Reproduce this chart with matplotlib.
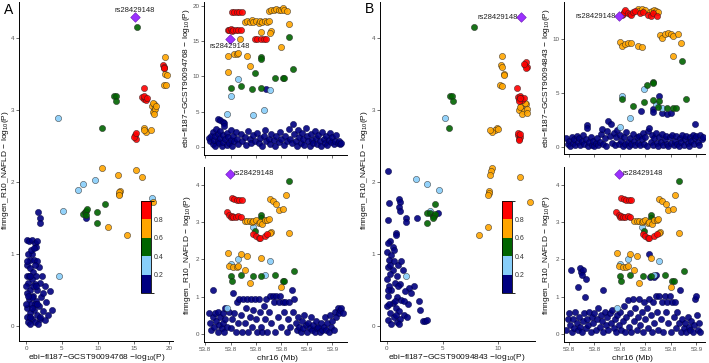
import matplotlib
matplotlib.use('Agg')
import matplotlib.pyplot as plt
import matplotlib.colorbar as mcolorbar
from matplotlib.colors import ListedColormap, BoundaryNorm

plt.rcParams['font.family'] = ['Liberation Sans', 'DejaVu Sans']
plt.rcParams['mathtext.fontset'] = 'custom'
plt.rcParams['mathtext.rm'] = 'Liberation Sans'
plt.rcParams['mathtext.it'] = 'Liberation Sans:italic'

# LD (r2) bins: navy, light blue, green, orange, red
LD_COLORS = ['#000080', '#87CEFA', '#006400', '#FFA500', '#FF0000']
LD_BOUNDS = [0, 0.2, 0.4, 0.6, 0.8, 1.0]
LD_TICKS = [0.2, 0.4, 0.6, 0.8]

LEAD_SNP = 'rs28429148'
LEAD_POS = 53.7995
LEAD_FINNGEN = 4.29
LEAD_EBI_768 = 15.2
LEAD_EBI_843 = 12.1

A_POS_TICKS = [53.78, 53.80, 53.82, 53.84, 53.86, 53.88]
A_POS_LABELS = ['53.8', '53.8', '53.8', '53.8', '53.9', '53.9']
B_POS_TICKS = [53.76, 53.78, 53.80, 53.82, 53.84, 53.86]
B_POS_LABELS = ['53.8', '53.8', '53.8', '53.8', '53.8', '53.9']

# ---- panel A, scatter: (ebi GCST90094768 -log10P, finngen -log10P)
A_SCAT_NAVY = [(1.7, 1.58), (1.9, 1.5), (2.0, 1.43), (8.3, 1.5),
               (0.1, 1.2), (0.4, 1.18), (0.8, 1.2), (1.2, 1.15), (1.5, 1.18), (1.4, 1.1), (0.9, 1.0),
               (0.3, 1.0), (0.6, 0.92), (1.1, 0.92), (1.6, 0.9), (0.2, 0.85), (1.8, 0.82), (0.5, 0.8),
               (1.0, 0.75), (1.4, 0.7), (0.1, 0.7), (2.2, 0.7), (0.8, 0.65), (1.9, 0.6), (0.3, 0.6),
               (1.2, 0.58), (2.6, 0.55), (0.6, 0.5), (1.6, 0.5), (3.4, 0.48), (0.1, 0.45), (1.0, 0.42),
               (2.1, 0.4), (0.4, 0.38), (1.4, 0.35), (2.8, 0.33), (0.7, 0.3), (1.8, 0.28), (0.2, 0.25),
               (1.1, 0.22), (3.6, 0.22), (2.4, 0.2), (0.5, 0.18), (1.5, 0.15), (3.0, 0.15), (0.1, 0.12),
               (0.9, 0.1), (2.0, 0.1), (0.3, 0.05), (1.3, 0.05), (0.6, 0.02), (1.7, 0.02), (2.6, 0.08),
               (0.0, 0.3), (0.0, 0.55), (0.2, 0.9), (0.7, 1.05), (1.3, 0.85), (0.4, 0.7), (1.0, 0.55),
               (0.8, 0.4), (1.2, 0.3), (0.5, 0.12), (1.6, 0.3), (2.3, 0.45), (1.9, 0.12), (0.3, 0.42),
               (0.9, 0.25), (1.4, 0.55), (0.6, 0.7), (1.1, 1.08)]
A_SCAT_LBLUE = [(4.5, 2.89), (9.6, 2.03), (7.3, 1.89), (8.0, 1.97), (5.2, 1.60), (4.6, 0.70), (17.6, 1.78)]
A_SCAT_GREEN = [(15.5, 4.15), (12.3, 3.20), (12.6, 3.20), (12.6, 3.12), (10.6, 2.75), (8.0, 1.55),
                (8.2, 1.58), (8.4, 1.60), (8.3, 1.54), (8.5, 1.62), (9.9, 1.58), (9.9, 1.43), (11.0, 1.69)]
A_SCAT_ORANGE = [(19.4, 3.74), (19.3, 3.58), (19.4, 3.50), (19.6, 3.49), (19.3, 3.34), (19.5, 3.35),
                 (17.6, 3.05), (17.8, 3.00), (17.9, 3.08), (17.7, 2.97), (18.0, 3.02), (17.8, 2.95),
                 (17.7, 3.10), (18.1, 3.05), (16.4, 2.75), (16.7, 2.70), (17.4, 2.72), (16.5, 2.72),
                 (10.6, 2.20), (12.8, 2.10), (15.4, 2.16), (16.2, 2.07), (12.9, 1.83), (13.1, 1.87),
                 (12.9, 1.86), (13.0, 1.82), (17.7, 1.72), (11.5, 1.37), (14.1, 1.26)]
A_SCAT_RED = [(16.4, 3.30), (16.2, 3.18), (16.4, 3.15), (16.6, 3.17), (16.8, 3.14), (16.5, 3.20),
              (16.9, 3.16), (15.2, 2.65), (15.3, 2.60), (15.1, 2.62), (15.3, 2.68), (19.1, 3.62),
              (19.2, 3.60), (19.2, 3.58)]

# ---- panel A, locus: (position Mb, ebi GCST90094768 -log10P)
A_TOP_NAVY = [(53.828, 8.2), (53.7905, 3.9), (53.792, 3.8), (53.794, 3.6), (53.795, 3.4),
              (53.783, 1.3), (53.784, 0.8), (53.785, 1.6), (53.786, 0.4), (53.786, 2.1), (53.787, 1.0),
              (53.788, 0.2), (53.788, 1.5), (53.789, 2.6), (53.790, 0.9), (53.790, 1.9), (53.791, 0.5),
              (53.792, 1.3), (53.792, 2.3), (53.793, 0.1), (53.794, 1.7), (53.794, 0.7), (53.795, 2.9),
              (53.796, 1.1), (53.797, 0.3), (53.797, 2.0), (53.798, 1.4), (53.799, 0.6), (53.800, 2.4),
              (53.800, 1.0), (53.801, 0.2), (53.802, 1.6), (53.803, 0.8), (53.804, 2.1), (53.805, 1.2),
              (53.806, 0.4), (53.808, 1.8), (53.809, 0.9), (53.811, 1.4), (53.812, 0.3), (53.814, 2.2),
              (53.815, 1.1), (53.816, 0.5), (53.818, 1.7), (53.819, 0.9), (53.821, 2.0), (53.822, 0.6),
              (53.823, 1.3), (53.825, 0.2), (53.826, 1.6), (53.827, 2.4), (53.828, 0.8), (53.830, 1.2),
              (53.831, 0.4), (53.832, 1.9), (53.834, 1.0), (53.835, 0.2), (53.836, 1.5), (53.838, 0.7),
              (53.839, 2.1), (53.840, 1.1), (53.842, 0.3), (53.843, 1.6), (53.844, 0.9), (53.846, 2.6),
              (53.847, 1.2), (53.848, 0.5), (53.849, 3.2), (53.850, 1.8), (53.851, 0.9), (53.852, 0.2),
              (53.853, 2.4), (53.854, 1.4), (53.855, 0.6), (53.856, 2.0), (53.857, 1.1), (53.858, 0.3),
              (53.859, 2.7), (53.860, 1.5), (53.861, 0.8), (53.862, 0.2), (53.863, 1.9), (53.864, 1.0),
              (53.865, 0.5), (53.866, 2.3), (53.867, 1.3), (53.868, 0.4), (53.869, 1.7), (53.870, 0.9),
              (53.871, 0.2), (53.872, 2.1), (53.873, 1.2), (53.874, 0.6), (53.875, 1.6), (53.876, 0.3),
              (53.877, 1.0), (53.878, 2.0), (53.879, 0.7), (53.880, 1.4), (53.881, 0.4), (53.882, 0.9),
              (53.883, 1.7), (53.884, 0.5), (53.885, 0.8), (53.886, 0.4), (53.887, 0.6)]
A_TOP_LBLUE = [(53.806, 9.6), (53.800, 7.2), (53.831, 8.1), (53.7975, 4.6), (53.8174, 4.5), (53.8265, 5.3)]
A_TOP_GREEN = [(53.846, 15.5), (53.824, 12.7), (53.824, 12.4), (53.849, 11.0), (53.819, 10.5),
               (53.835, 9.8), (53.841, 9.8), (53.842, 9.8), (53.800, 8.4), (53.808, 8.6),
               (53.817, 8.2), (53.824, 8.4)]
A_TOP_ORANGE = [(53.811, 17.7), (53.813, 17.8), (53.815, 17.7), (53.817, 17.9), (53.818, 17.7),
                (53.820, 17.8), (53.822, 17.6), (53.823, 17.8), (53.825, 17.7), (53.827, 17.8),
                (53.829, 17.7), (53.830, 17.8), (53.830, 19.2), (53.832, 19.3), (53.834, 19.3),
                (53.836, 19.5), (53.838, 19.4), (53.840, 19.4), (53.841, 19.6), (53.842, 19.3),
                (53.844, 19.2), (53.846, 17.4), (53.8315, 16.4), (53.831, 16.1), (53.824, 16.2),
                (53.8077, 15.3), (53.840, 14.1), (53.803, 13.2), (53.805, 13.2), (53.806, 13.3),
                (53.798, 12.8), (53.813, 12.8), (53.815, 11.5), (53.798, 10.6)]
A_TOP_RED = [(53.801, 19.1), (53.803, 19.15), (53.805, 19.1), (53.807, 19.15), (53.809, 19.1),
             (53.798, 16.6), (53.799, 16.5), (53.800, 16.7), (53.801, 16.4), (53.802, 16.6),
             (53.804, 16.5), (53.806, 16.6), (53.808, 16.5), (53.819, 15.2), (53.821, 15.25),
             (53.824, 15.2), (53.826, 15.2), (53.828, 15.25)]

# ---- finngen locus: (position Mb, finngen -log10P), coloured SNPs shared by A and B
FIN_LBLUE = [(53.8174, 2.86), (53.800, 1.87), (53.806, 2.02), (53.831, 1.96), (53.827, 1.57), (53.7975, 0.71)]
FIN_GREEN = [(53.846, 4.10), (53.824, 3.20), (53.824, 3.12), (53.819, 2.75), (53.800, 1.55),
             (53.801, 1.43), (53.808, 1.57), (53.818, 1.55), (53.824, 1.55), (53.835, 1.57),
             (53.841, 1.43), (53.842, 1.43), (53.850, 1.68)]
FIN_ORANGE = [(53.811, 3.03), (53.813, 3.02), (53.815, 3.04), (53.817, 3.00), (53.818, 3.03),
              (53.820, 3.05), (53.822, 2.98), (53.823, 3.00), (53.825, 2.95), (53.827, 3.05),
              (53.829, 3.07), (53.830, 3.08), (53.831, 3.62), (53.833, 3.58), (53.836, 3.48),
              (53.8435, 3.72), (53.838, 3.33), (53.8415, 3.35), (53.8315, 2.73), (53.831, 2.70),
              (53.846, 2.72), (53.798, 2.18), (53.808, 2.14), (53.813, 2.08), (53.824, 2.05),
              (53.799, 1.83), (53.802, 1.80), (53.805, 1.80), (53.806, 1.83), (53.811, 1.72),
              (53.815, 1.36), (53.840, 1.25)]
FIN_RED = [(53.801, 3.65), (53.803, 3.62), (53.805, 3.60), (53.807, 3.60), (53.809, 3.60),
           (53.797, 3.28), (53.799, 3.20), (53.800, 3.15), (53.801, 3.17), (53.802, 3.14),
           (53.804, 3.15), (53.806, 3.16), (53.808, 3.15), (53.818, 2.68), (53.820, 2.62),
           (53.822, 2.58), (53.823, 2.58), (53.827, 2.64), (53.829, 2.68)]

A_BOT_NAVY = [(53.783, 0.55), (53.784, 0.3), (53.785, 0.1), (53.786, 0.45), (53.786, 1.18), (53.787, 0.2),
              (53.788, 0.55), (53.789, 0.35), (53.790, 0.05), (53.790, 0.6), (53.791, 0.25), (53.792, 0.45),
              (53.793, 0.15), (53.794, 0.55), (53.794, 0.3), (53.795, 0.05), (53.796, 0.4), (53.796, 0.7),
              (53.797, 0.2), (53.799, 0.6), (53.800, 0.15), (53.801, 0.4), (53.802, 1.1), (53.803, 0.55),
              (53.804, 0.05), (53.805, 0.85), (53.806, 0.3), (53.807, 0.95), (53.808, 0.5), (53.809, 0.05),
              (53.810, 0.95), (53.811, 0.3), (53.812, 0.7), (53.813, 0.95), (53.814, 0.05), (53.815, 0.45),
              (53.816, 0.95), (53.817, 0.2), (53.818, 0.65), (53.819, 0.95), (53.820, 0.4), (53.821, 0.05),
              (53.822, 0.95), (53.823, 0.6), (53.824, 0.2), (53.825, 0.05), (53.826, 0.75), (53.827, 0.4),
              (53.828, 0.95), (53.829, 0.05), (53.830, 0.6), (53.831, 1.03), (53.832, 0.3), (53.833, 1.03),
              (53.834, 0.85), (53.835, 0.05), (53.836, 1.03), (53.837, 0.45), (53.838, 0.85), (53.839, 1.03),
              (53.840, 0.2), (53.841, 0.85), (53.842, 0.6), (53.843, 0.85), (53.844, 0.05), (53.845, 0.4),
              (53.846, 0.85), (53.847, 0.2), (53.848, 1.18), (53.849, 0.6), (53.850, 0.95), (53.851, 0.3),
              (53.852, 0.1), (53.853, 0.45), (53.854, 0.2), (53.855, 0.05), (53.856, 0.35), (53.857, 0.15),
              (53.858, 0.5), (53.859, 0.25), (53.860, 0.05), (53.861, 0.3), (53.862, 0.15), (53.863, 0.45),
              (53.864, 0.1), (53.865, 0.25), (53.866, 0.05), (53.867, 0.35), (53.868, 0.15), (53.869, 0.2),
              (53.870, 0.05), (53.871, 0.3), (53.872, 0.1), (53.873, 0.2), (53.874, 0.45), (53.875, 0.1),
              (53.876, 0.3), (53.877, 0.05), (53.878, 0.5), (53.879, 0.2), (53.880, 0.35), (53.881, 0.1),
              (53.882, 0.6), (53.883, 0.45), (53.884, 0.7), (53.885, 0.55), (53.886, 0.65), (53.887, 0.7),
              (53.888, 0.55)]

# ---- panel B, scatter: (ebi GCST90094843 -log10P, finngen -log10P)
B_SCAT_NAVY = [(0.05, 2.15), (0.2, 1.71), (1.1, 1.76), (1.2, 1.72), (1.1, 1.65), (1.2, 1.6), (0.1, 1.47),
               (1.7, 1.5), (1.7, 1.44), (2.7, 1.5), (4.6, 1.57), (0.8, 1.29), (0.8, 1.26), (0.3, 1.18),
               (0.1, 1.15), (0.5, 1.1), (0.0, 1.02), (0.4, 0.98), (0.2, 0.92), (0.6, 0.9), (1.0, 0.85),
               (0.1, 0.82), (0.5, 0.78), (1.4, 0.78), (0.3, 0.72), (0.9, 0.7), (2.4, 0.55), (0.0, 0.65),
               (0.7, 0.6), (1.2, 0.58), (2.0, 0.52), (0.4, 0.5), (1.6, 0.48), (2.2, 0.45), (0.1, 0.42),
               (0.9, 0.4), (1.3, 0.36), (0.5, 0.32), (1.9, 0.3), (0.0, 0.28), (0.8, 0.25), (1.1, 0.2),
               (0.3, 0.18), (1.5, 0.15), (0.6, 0.12), (0.1, 0.08), (0.9, 0.05), (1.2, 0.1), (0.4, 0.02),
               (3.2, 0.07), (3.4, 0.07), (3.6, 0.08), (2.9, 0.35), (3.0, 0.22), (1.8, 0.12), (0.2, 0.55),
               (0.7, 0.35), (1.0, 0.55), (1.3, 0.9), (0.6, 1.05), (0.2, 0.3), (0.8, 0.15), (1.5, 0.35),
               (1.1, 0.02), (0.3, 0.85), (0.05, 0.5)]
B_SCAT_LBLUE = [(5.2, 2.89), (2.6, 2.04), (3.6, 1.97), (4.7, 1.89), (3.9, 1.60), (1.7, 0.70)]
B_SCAT_GREEN = [(7.85, 4.15), (5.7, 3.20), (5.85, 3.20), (5.9, 3.12), (5.6, 2.75), (4.3, 1.69),
                (3.6, 1.57), (3.9, 1.57), (3.6, 1.43), (4.1, 1.53), (4.2, 1.52), (4.3, 1.55), (4.15, 1.50)]
B_SCAT_ORANGE = [(10.4, 3.75), (10.3, 3.62), (10.4, 3.60), (10.5, 3.50), (10.5, 3.48), (10.2, 3.35),
                 (10.4, 3.33), (9.9, 2.75), (9.7, 2.72), (9.5, 2.70), (9.3, 2.72), (10.0, 2.74),
                 (9.5, 2.20), (9.4, 2.15), (9.3, 2.09), (12.0, 2.07), (11.9, 3.00), (12.1, 3.05),
                 (12.3, 2.98), (12.5, 3.08), (12.6, 3.02), (12.2, 2.95), (12.4, 3.10), (12.0, 3.04),
                 (12.6, 2.96), (9.2, 1.87), (9.2, 1.84), (9.1, 1.82), (12.9, 1.72), (9.1, 1.37), (8.3, 1.26)]
B_SCAT_RED = [(12.4, 3.62), (12.5, 3.67), (12.6, 3.60), (12.5, 3.58), (12.3, 3.64), (11.7, 3.30),
              (11.8, 3.18), (11.9, 3.15), (12.0, 3.20), (12.1, 3.16), (12.2, 3.14), (12.3, 3.17),
              (11.9, 3.12), (12.0, 3.16), (11.8, 2.65), (11.9, 2.60), (12.0, 2.62), (11.8, 2.68),
              (11.9, 2.58), (12.0, 2.66)]

# ---- panel B, locus: (position Mb, ebi GCST90094843 -log10P)
B_TOP_NAVY = [(53.8308, 4.72), (53.8165, 3.36), (53.8256, 3.5), (53.8256, 3.27), (53.833, 3.15),
              (53.8366, 3.1), (53.8397, 3.15), (53.859, 2.1),
              (53.758, 0.8), (53.759, 0.3), (53.760, 0.6), (53.761, 0.1), (53.762, 0.9), (53.763, 0.4),
              (53.764, 0.7), (53.765, 0.2), (53.766, 1.0), (53.767, 0.5), (53.768, 0.8), (53.769, 0.15),
              (53.770, 0.6), (53.771, 1.1), (53.772, 0.3), (53.773, 0.7), (53.774, 2.0), (53.774, 1.8),
              (53.775, 0.1), (53.776, 0.5), (53.777, 0.9), (53.778, 0.2), (53.779, 0.6), (53.780, 0.1),
              (53.781, 0.4), (53.782, 0.8), (53.783, 0.2), (53.784, 0.5), (53.785, 1.2), (53.786, 1.7),
              (53.787, 0.3), (53.788, 0.8), (53.789, 0.1), (53.790, 1.5), (53.791, 2.4), (53.792, 1.0),
              (53.793, 2.1), (53.794, 0.4), (53.795, 1.3), (53.796, 0.15), (53.797, 0.9), (53.798, 1.6),
              (53.799, 0.3), (53.800, 1.1), (53.801, 0.6), (53.802, 0.1), (53.803, 0.9), (53.804, 0.3),
              (53.805, 1.4), (53.806, 0.5), (53.807, 0.1), (53.808, 0.8), (53.809, 0.3), (53.810, 1.2),
              (53.811, 0.6), (53.812, 0.15), (53.813, 0.9), (53.814, 0.4), (53.815, 1.0), (53.816, 0.2),
              (53.817, 0.7), (53.818, 1.3), (53.819, 0.3), (53.820, 0.9), (53.821, 0.1), (53.822, 1.5),
              (53.823, 1.8), (53.824, 0.5), (53.825, 1.1), (53.826, 0.2), (53.827, 0.8), (53.828, 1.3),
              (53.829, 0.4), (53.830, 0.1), (53.831, 0.9), (53.832, 0.5), (53.833, 1.2), (53.834, 0.2),
              (53.835, 0.7), (53.836, 1.0), (53.837, 0.3), (53.838, 0.1), (53.839, 0.9), (53.840, 0.4),
              (53.841, 1.1), (53.842, 0.2), (53.843, 0.6), (53.844, 1.0), (53.845, 0.3), (53.846, 0.1),
              (53.847, 0.8), (53.848, 0.5), (53.849, 1.1), (53.850, 0.2), (53.851, 0.7), (53.852, 1.0),
              (53.853, 0.4), (53.854, 0.1), (53.855, 0.9), (53.856, 0.6), (53.857, 1.1), (53.858, 0.3),
              (53.859, 0.8), (53.860, 1.0), (53.861, 0.5), (53.862, 0.2), (53.863, 1.1), (53.864, 0.7),
              (53.865, 0.9)]
B_TOP_LBLUE = [(53.8018, 4.75), (53.8191, 5.34), (53.8282, 3.95), (53.8327, 3.64), (53.8078, 2.72), (53.800, 1.82)]
B_TOP_GREEN = [(53.8484, 7.96), (53.8261, 6.05), (53.8261, 5.9), (53.8209, 5.74), (53.8018, 4.41),
               (53.8099, 3.8), (53.8188, 4.2), (53.8256, 4.35), (53.8308, 4.3), (53.8371, 3.64),
               (53.8418, 3.64), (53.8437, 3.64), (53.8515, 4.41), (53.8295, 3.73)]
B_TOP_ORANGE = [(53.814, 12.8), (53.815, 12.6), (53.8175, 12.75), (53.820, 12.7), (53.8235, 12.5),
                (53.8255, 12.55), (53.827, 12.7), (53.8285, 12.6), (53.830, 12.5), (53.800, 9.75),
                (53.8013, 9.4), (53.804, 9.5), (53.8065, 9.6), (53.809, 9.6), (53.8144, 9.4),
                (53.817, 9.3), (53.8314, 10.37), (53.8332, 10.06), (53.8353, 10.43), (53.8374, 10.6),
                (53.8397, 10.5), (53.8418, 10.3), (53.8452, 10.46), (53.8478, 9.6), (53.8418, 8.43)]
B_TOP_RED = [(53.8013, 12.2), (53.8025, 12.3), (53.803, 12.5), (53.804, 12.7), (53.806, 12.4),
             (53.808, 12.3), (53.809, 12.2), (53.810, 12.5), (53.812, 12.6), (53.816, 12.4),
             (53.818, 12.5), (53.822, 12.2), (53.824, 12.1), (53.826, 12.4), (53.829, 12.1)]

B_BOT_NAVY = [(53.7618, 1.72), (53.7684, 1.76), (53.7697, 1.67), (53.7710, 1.72), (53.7705, 1.59),
              (53.7736, 1.47), (53.7671, 1.27), (53.7867, 1.18), (53.7728, 1.0), (53.8227, 2.15),
              (53.8233, 1.54), (53.8264, 1.52), (53.828, 1.59),
              (53.758, 0.1), (53.759, 0.4), (53.760, 0.55), (53.761, 0.25), (53.762, 0.05), (53.763, 0.4),
              (53.764, 0.15), (53.765, 0.6), (53.766, 0.3), (53.767, 0.1), (53.768, 0.45), (53.769, 0.2),
              (53.770, 0.05), (53.771, 0.35), (53.772, 0.55), (53.773, 0.15), (53.774, 0.4), (53.775, 0.25),
              (53.776, 0.6), (53.777, 0.05), (53.778, 0.45), (53.779, 0.3), (53.780, 0.55), (53.781, 0.1),
              (53.782, 0.4), (53.783, 0.7), (53.784, 0.2), (53.785, 0.5), (53.786, 0.35), (53.787, 0.05),
              (53.788, 0.6), (53.789, 0.25), (53.790, 0.45), (53.791, 0.1), (53.792, 0.55), (53.793, 0.3),
              (53.794, 0.65), (53.795, 0.15), (53.796, 0.4), (53.797, 0.05), (53.798, 0.5), (53.799, 0.25),
              (53.800, 0.6), (53.801, 0.1), (53.802, 0.35), (53.803, 0.75), (53.804, 0.05), (53.805, 0.45),
              (53.806, 0.9), (53.807, 0.2), (53.808, 0.55), (53.809, 0.05), (53.810, 0.95), (53.811, 0.35),
              (53.812, 0.7), (53.813, 0.1), (53.814, 0.45), (53.815, 0.95), (53.816, 0.25), (53.817, 0.6),
              (53.818, 0.05), (53.819, 0.85), (53.820, 0.4), (53.821, 0.7), (53.822, 0.15), (53.823, 0.95),
              (53.824, 0.5), (53.825, 0.05), (53.826, 0.85), (53.827, 0.3), (53.828, 1.03), (53.829, 0.6),
              (53.830, 0.1), (53.831, 1.03), (53.832, 0.4), (53.833, 0.85), (53.834, 0.05), (53.835, 1.03),
              (53.836, 0.6), (53.837, 0.85), (53.838, 0.3), (53.839, 1.03), (53.840, 0.05), (53.841, 0.85),
              (53.842, 0.45), (53.843, 0.85), (53.844, 0.15), (53.845, 0.6), (53.846, 0.3), (53.847, 1.18),
              (53.848, 0.05), (53.849, 0.4), (53.850, 0.15), (53.851, 0.3), (53.852, 0.05), (53.853, 0.45),
              (53.854, 0.2), (53.855, 0.1), (53.856, 0.35), (53.857, 0.05), (53.858, 0.25), (53.859, 0.95),
              (53.860, 1.03), (53.861, 0.1), (53.862, 0.3), (53.863, 0.05), (53.8605, 0.5)]

W, H = 709, 363
fig = plt.figure(figsize=(W / 100, H / 100), dpi=100)


def px_box(left, top, right, bottom):
    return [left / W, 1 - bottom / H, (right - left) / W, (bottom - top) / H]


def put_text(x, y, s, **kw):
    fig.text(x / W, 1 - y / H, s, ha='center', va='center', **kw)


def draw_points(ax, groups):
    for pts, col in zip(groups, LD_COLORS):
        xs, ys = zip(*pts)
        edge = '#000040' if col == LD_COLORS[0] else '#222222'
        ax.scatter(xs, ys, s=20, c=col, edgecolors=edge, linewidths=0.35, alpha=0.9, zorder=2)


def draw_lead(ax, x, y, offset, ha, va):
    ax.scatter([x], [y], marker='D', s=24, c='#9B30FF', edgecolors='#6A1BB0',
               linewidths=0.4, zorder=5)
    ax.annotate(LEAD_SNP, (x, y), xytext=offset, textcoords='offset points',
                ha=ha, va=va, fontsize=5.5, color='#222222', zorder=6)


def style(ax, xlim, ylim, xticks, yticks, xlabels=None, show_x=True):
    ax.set_xlim(xlim)
    ax.set_ylim(ylim)
    ax.set_xticks(xticks)
    ax.set_yticks(yticks)
    if xlabels is not None:
        ax.set_xticklabels(xlabels)
    for side in ['top', 'right']:
        ax.spines[side].set_visible(False)
    for side in ['left', 'bottom']:
        ax.spines[side].set_linewidth(0.7)
    ax.tick_params(length=2.2, width=0.5, color='#333333', labelsize=4.5,
                   labelcolor='#555555', pad=1.2)
    if not show_x:
        ax.tick_params(labelbottom=False)


def add_colorbar(left, top, right, bottom):
    cax = fig.add_axes(px_box(left, top, right, bottom))
    cmap = ListedColormap(LD_COLORS)
    norm = BoundaryNorm(LD_BOUNDS, cmap.N)
    cb = mcolorbar.ColorbarBase(cax, cmap=cmap, norm=norm, boundaries=LD_BOUNDS,
                                ticks=LD_TICKS, orientation='vertical')
    cb.outline.set_linewidth(0.6)
    cax.tick_params(length=0, labelsize=5, pad=2, labelcolor='#333333')


# ---------------- panel A ----------------
ax = fig.add_axes(px_box(19, 2, 173, 341))
draw_points(ax, [A_SCAT_NAVY, A_SCAT_LBLUE, A_SCAT_GREEN, A_SCAT_ORANGE, A_SCAT_RED])
draw_lead(ax, LEAD_EBI_768, LEAD_FINNGEN, (0, 2.5), 'center', 'bottom')
style(ax, (-0.98, 20.5), (-0.21, 4.5), [0, 5, 10, 15, 20], [0, 1, 2, 3, 4])
add_colorbar(141, 200.5, 151, 293.3)

ax = fig.add_axes(px_box(204, 2, 347, 155))
draw_points(ax, [A_TOP_NAVY, A_TOP_LBLUE, A_TOP_GREEN, A_TOP_ORANGE, A_TOP_RED])
draw_lead(ax, LEAD_POS, LEAD_EBI_768, (0, -2.5), 'center', 'top')
style(ax, (53.7792, 53.8914), (-1.13, 20.5), A_POS_TICKS, [0, 5, 10, 15, 20], show_x=False)

ax = fig.add_axes(px_box(204, 167, 347, 342))
draw_points(ax, [A_BOT_NAVY, FIN_LBLUE, FIN_GREEN, FIN_ORANGE, FIN_RED])
draw_lead(ax, LEAD_POS, LEAD_FINNGEN, (2.5, 0.5), 'left', 'center')
style(ax, (53.7792, 53.8914), (-0.215, 4.48), A_POS_TICKS, [0, 1, 2, 3, 4], A_POS_LABELS)

# ---------------- panel B ----------------
ax = fig.add_axes(px_box(380, 2, 535, 341))
draw_points(ax, [B_SCAT_NAVY, B_SCAT_LBLUE, B_SCAT_GREEN, B_SCAT_ORANGE, B_SCAT_RED])
draw_lead(ax, LEAD_EBI_843, LEAD_FINNGEN, (-2.5, 0), 'right', 'center')
style(ax, (-0.63, 13.33), (-0.21, 4.5), [0, 5, 10], [0, 1, 2, 3, 4])
add_colorbar(502, 200.7, 512, 293.3)

ax = fig.add_axes(px_box(564, 2, 705, 154))
draw_points(ax, [B_TOP_NAVY, B_TOP_LBLUE, B_TOP_GREEN, B_TOP_ORANGE, B_TOP_RED])
draw_lead(ax, LEAD_POS, LEAD_EBI_843, (-2.5, 0), 'right', 'center')
style(ax, (53.7561, 53.8667), (-0.65, 13.43), B_POS_TICKS, [0, 5, 10], show_x=False)

ax = fig.add_axes(px_box(564, 167, 705, 342))
draw_points(ax, [B_BOT_NAVY, FIN_LBLUE, FIN_GREEN, FIN_ORANGE, FIN_RED])
draw_lead(ax, LEAD_POS, LEAD_FINNGEN, (2.5, 0.5), 'left', 'center')
style(ax, (53.7561, 53.8667), (-0.215, 4.48), B_POS_TICKS, [0, 1, 2, 3, 4], B_POS_LABELS)

# ---------------- axis titles and panel tags ----------------
lab = dict(fontsize=6.0, color='#111111')
fin_lab = 'finngen_R10_NAFLD \u2212 log$_{10}$(P)'
put_text(5.5, 170, fin_lab, rotation=90, **lab)
put_text(97, 357.5, 'ebi\u2212fl187\u2212GCST90094768 \u2212log$_{10}$(P)', **lab)
put_text(187, 78, 'ebi\u2212fl187\u2212GCST90094768 \u2212 log$_{10}$(P)', rotation=90, **lab)
put_text(188, 255, fin_lab, rotation=90, **lab)
put_text(277, 358, 'chr16 (Mb)', **lab)

put_text(364, 170, fin_lab, rotation=90, **lab)
put_text(457, 357.5, 'ebi\u2212fl187\u2212GCST90094843 \u2212log$_{10}$(P)', **lab)
put_text(547, 78, 'ebi\u2212fl187\u2212GCST90094843 \u2212 log$_{10}$(P)', rotation=90, **lab)
put_text(547, 255, fin_lab, rotation=90, **lab)
put_text(632, 358, 'chr16 (Mb)', **lab)

put_text(9, 10, 'A', fontsize=10)
put_text(369, 9, 'B', fontsize=10)

fig.savefig('out.png', dpi=100)
